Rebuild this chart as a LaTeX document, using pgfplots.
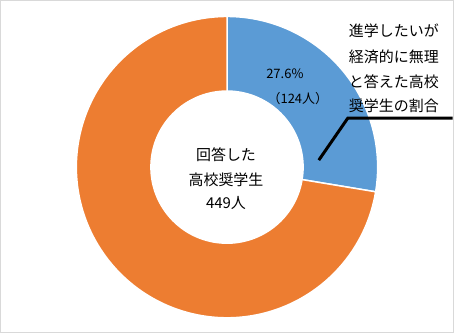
\documentclass[border=0pt]{standalone}
\usepackage{pgfplots}
\pgfplotsset{compat=1.18}
\usepackage{pgfplotstable}
\usepackage{fontspec}
\setmainfont{Noto Sans CJK JP}
\definecolor{cblue}{HTML}{5B9BD5}
\definecolor{corange}{HTML}{ED7D31}
\definecolor{frame}{HTML}{D9D9D9}
\pgfplotstableread{
label value
yes 124
other 325
}\datatable
\pgfplotstablegetelem{0}{value}\of\datatable
\let\va\pgfplotsretval
\pgfplotstablegetelem{1}{value}\of\datatable
\let\vb\pgfplotsretval
\pgfmathsetmacro\frac{\va/(\va+\vb)}
\pgfmathsetmacro\angA{90-360*\frac}
\begin{document}
\begin{tikzpicture}
\begin{axis}[
  scale only axis, width=454pt, height=333pt,
  xmin=0, xmax=454, ymin=0, ymax=333,
  axis line style={frame, line width=1pt},
  xtick=\empty, ytick=\empty,
  clip=false,
]
\addplot[fill=cblue, draw=white, line width=1.5pt, domain=\angA:90, samples=120, variable=\t]
  ({227+151*cos(\t)},{166+151*sin(\t)}) -- (axis cs:227,166) -- cycle;
\addplot[fill=corange, draw=white, line width=1.5pt, domain=-270:\angA, samples=240, variable=\t]
  ({227+151*cos(\t)},{166+151*sin(\t)}) -- (axis cs:227,166) -- cycle;
\addplot[fill=white, draw=none, domain=0:360, samples=160, variable=\t]
  ({227+77*cos(\t)},{166+77*sin(\t)}) -- cycle;
\draw[black, line width=3pt] (axis cs:319,173) -- (axis cs:348,215) -- (axis cs:453,215);
\begin{scope}[every node/.style={font=\fontsize{13}{15}\selectfont, inner sep=0pt}]
\node at (axis cs:285,260) {27.6\%};
\node at (axis cs:298,235) {（124人）};
\end{scope}
\begin{scope}[every node/.style={font=\fontsize{15}{17}\selectfont, inner sep=0pt}]
\node at (axis cs:226,178) {回答した};
\node at (axis cs:226,153) {高校奨学生};
\node at (axis cs:226,130) {449人};
\node[anchor=west] at (axis cs:349,303) {進学したいが};
\node[anchor=west] at (axis cs:349,277) {経済的に無理};
\node[anchor=west] at (axis cs:349,252) {と答えた高校};
\node[anchor=west] at (axis cs:349,227) {奨学生の割合};
\end{scope}
\end{axis}
\end{tikzpicture}
\end{document}
